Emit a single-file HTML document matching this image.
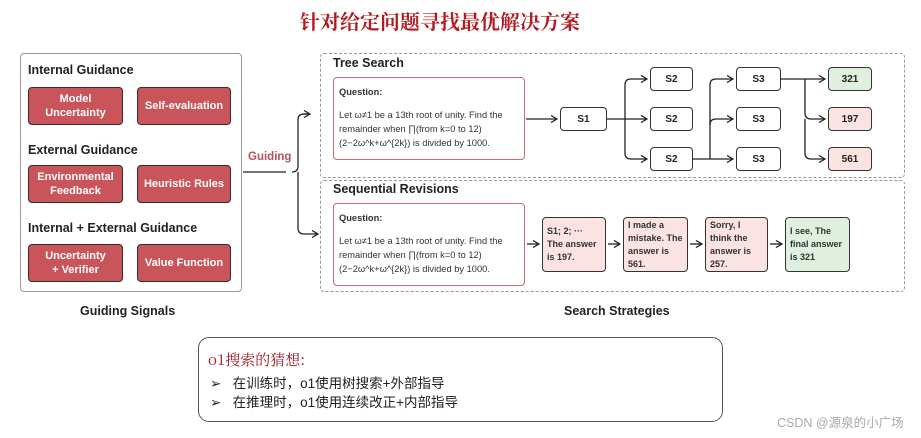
<!DOCTYPE html>
<html><head><meta charset="utf-8"><style>
body{margin:0;width:921px;height:438px;background:#fff;position:relative;overflow:hidden;font-family:"Liberation Sans","Noto Sans CJK SC",sans-serif;}
.a{position:absolute;}
.h{font-weight:bold;font-size:12.5px;color:#222;}
.rb{position:absolute;background:#c9545a;border:1.5px solid #3a2a2a;border-radius:4px;color:#fff;font-weight:bold;font-size:11px;display:flex;align-items:center;justify-content:center;text-align:center;line-height:14px;box-sizing:border-box;}
.q{position:absolute;border:1.5px solid #c96a70;border-radius:4px;box-sizing:border-box;font-size:9.3px;color:#333;padding:7px 5px;line-height:14px;background:#fff;}
.n{position:absolute;border:1.5px solid #333;border-radius:4px;box-sizing:border-box;font-size:10px;font-weight:bold;display:flex;align-items:center;justify-content:center;background:#fff;color:#222;}
.s{position:absolute;border:1.5px solid #333;border-radius:4px;box-sizing:border-box;font-size:9px;font-weight:bold;padding:3px 4px;line-height:13px;color:#333;display:flex;align-items:center;}
</style></head><body>
<div class="a" style="left:0;width:880px;top:6px;text-align:center;font-family:'Noto Serif CJK SC',serif;font-weight:bold;font-size:20px;color:#b01c22;">针对给定问题寻找最优解决方案</div>

<div class="a" style="left:20px;top:53px;width:222px;height:239px;border:1.5px solid #999;border-radius:4px;box-sizing:border-box;"></div>
<div class="a h" style="left:28px;top:63px;">Internal Guidance</div>
<div class="rb" style="left:28px;top:87px;width:95px;height:38px;">Model<br>Uncertainty</div>
<div class="rb" style="left:137px;top:87px;width:94px;height:38px;">Self-evaluation</div>
<div class="a h" style="left:28px;top:143px;">External Guidance</div>
<div class="rb" style="left:28px;top:165px;width:95px;height:38px;">Environmental<br>Feedback</div>
<div class="rb" style="left:137px;top:165px;width:94px;height:38px;">Heuristic Rules</div>
<div class="a h" style="left:28px;top:221px;">Internal + External Guidance</div>
<div class="rb" style="left:28px;top:244px;width:95px;height:38px;">Uncertainty<br>+ Verifier</div>
<div class="rb" style="left:137px;top:244px;width:94px;height:38px;">Value Function</div>
<div class="a h" style="left:80px;top:304px;">Guiding Signals</div>
<div class="a" style="left:248px;top:151px;font-size:11.5px;font-weight:bold;color:#b5505e;">Guiding</div>

<div class="a" style="left:320px;top:53px;width:585px;height:125px;border:1.5px dashed #999;border-radius:4px;box-sizing:border-box;"></div>
<div class="a" style="left:320px;top:180px;width:585px;height:112px;border:1.5px dashed #999;border-radius:4px;box-sizing:border-box;"></div>
<div class="a h" style="left:333px;top:56px;">Tree Search</div>
<div class="a h" style="left:333px;top:182px;">Sequential Revisions</div>
<div class="a h" style="left:564px;top:304px;">Search Strategies</div>

<div class="q" style="left:333px;top:77px;width:192px;height:83px;"><b>Question:</b><br><div style="height:9px"></div>Let ω≠1 be a 13th root of unity. Find the remainder when ∏(from k=0 to 12) (2−2ω^k+ω^{2k}) is divided by 1000.</div>
<div class="q" style="left:333px;top:203px;width:192px;height:83px;"><b>Question:</b><br><div style="height:9px"></div>Let ω≠1 be a 13th root of unity. Find the remainder when ∏(from k=0 to 12) (2−2ω^k+ω^{2k}) is divided by 1000.</div>

<div class="n" style="left:560px;top:107px;width:47px;height:24px;">S1</div>
<div class="n" style="left:650px;top:67px;width:43px;height:24px;">S2</div>
<div class="n" style="left:650px;top:107px;width:43px;height:24px;">S2</div>
<div class="n" style="left:650px;top:147px;width:43px;height:24px;">S2</div>
<div class="n" style="left:736px;top:67px;width:45px;height:24px;">S3</div>
<div class="n" style="left:736px;top:107px;width:45px;height:24px;">S3</div>
<div class="n" style="left:736px;top:147px;width:45px;height:24px;">S3</div>
<div class="n" style="left:828px;top:67px;width:44px;height:24px;background:#dff0de;">321</div>
<div class="n" style="left:828px;top:107px;width:44px;height:24px;background:#fbe3e1;">197</div>
<div class="n" style="left:828px;top:147px;width:44px;height:24px;background:#fbe3e1;">561</div>

<div class="s" style="left:542px;top:217px;width:64px;height:55px;background:#fbe3e1;">S1; 2; ··· The answer is 197.</div>
<div class="s" style="left:623px;top:217px;width:65px;height:55px;background:#fbe3e1;">I made a mistake. The answer is 561.</div>
<div class="s" style="left:705px;top:217px;width:63px;height:55px;background:#fbe3e1;">Sorry, I think the answer is 257.</div>
<div class="s" style="left:785px;top:217px;width:65px;height:55px;background:#dff0de;">I see, The final answer is 321</div>

<svg class="a" style="left:0;top:0" width="921" height="438">
<defs><marker id="m" markerWidth="8" markerHeight="8" refX="7" refY="4" orient="auto" markerUnits="userSpaceOnUse"><path d="M1,0.5 L7,4 L1,7.5" fill="none" stroke="#222" stroke-width="1.3"/></marker></defs>
<g fill="none" stroke="#222" stroke-width="1.3">
<path d="M243,172 H286"/>
<path d="M310,114 H304 Q298,114 298,120 V166 Q298,172 292,172 M298,172 V228 Q298,234 304,234 H318" marker-end="url(#m)"/>
<path d="M303,114 H310" marker-end="url(#m)"/>
<path d="M526,119 H557" marker-end="url(#m)"/>
<path d="M607,119 H647" marker-end="url(#m)"/>
<path d="M625,119 V85 Q625,79 631,79 H647" marker-end="url(#m)"/>
<path d="M625,119 V153 Q625,159 631,159 H647" marker-end="url(#m)"/>
<path d="M693,159 H733" marker-end="url(#m)"/>
<path d="M710,159 V85 Q710,79 716,79 H733" marker-end="url(#m)"/>
<path d="M710,125 Q710,119 716,119 H733" marker-end="url(#m)"/>
<path d="M781,79 H825" marker-end="url(#m)"/>
<path d="M805,79 V113 Q805,119 811,119 H825" marker-end="url(#m)"/>
<path d="M805,119 V153 Q805,159 811,159 H825" marker-end="url(#m)"/>
<path d="M527,244 H539" marker-end="url(#m)"/>
<path d="M608,244 H620" marker-end="url(#m)"/>
<path d="M690,244 H702" marker-end="url(#m)"/>
<path d="M770,244 H782" marker-end="url(#m)"/>
</g></svg>

<div class="a" style="left:198px;top:337px;width:525px;height:85px;border:1.5px solid #555;border-radius:11px;box-sizing:border-box;"></div>
<div class="a" style="left:208px;top:349px;font-size:15px;color:#a01c22;font-family:'Noto Serif CJK SC',serif;">o1搜索的猜想:</div>
<div class="a" style="left:210px;top:374px;font-size:13.5px;color:#222;line-height:19px;font-family:'Liberation Sans','Noto Sans CJK SC',sans-serif;">➢&nbsp;&nbsp; 在训练时，o1使用树搜索+外部指导<br>➢&nbsp;&nbsp; 在推理时，o1使用连续改正+内部指导</div>
<div class="a" style="left:777px;top:412px;font-size:12.5px;color:#aaa;">CSDN @源泉的小广场</div>
</body></html>
